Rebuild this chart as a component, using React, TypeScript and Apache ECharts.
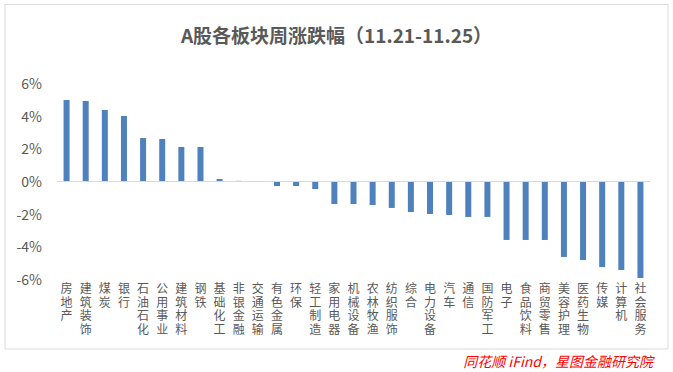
import React, { useEffect, useRef } from "react";
import * as echarts from "echarts";

const categories = [
  "房地产", "建筑装饰", "煤炭", "银行", "石油石化", "公用事业", "建筑材料", "钢铁",
  "基础化工", "非银金融", "交通运输", "有色金属", "环保", "轻工制造", "家用电器",
  "机械设备", "农林牧渔", "纺织服饰", "综合", "电力设备", "汽车", "通信", "国防军工",
  "电子", "食品饮料", "商贸零售", "美容护理", "医药生物", "传媒", "计算机", "社会服务",
];
const values = [
  4.96, 4.9, 4.35, 3.98, 2.63, 2.57, 2.08, 2.08,
  0.12, 0.01, -0.02, -0.31, -0.31, -0.49, -1.41,
  -1.41, -1.47, -1.65, -1.9, -2.02, -2.08, -2.2, -2.2,
  -3.61, -3.61, -3.61, -4.65, -4.84, -5.27, -5.45, -5.94,
];
const yTicks = { min: -6, max: 6, interval: 2 };
const titleText = "A股各板块周涨跌幅（11.21-11.25）";
const sourceText = "同花顺 iFind，星图金融研究院";

export default function App() {
  const ref = useRef<HTMLDivElement>(null);
  useEffect(() => {
    if (!ref.current) return;
    const chart = echarts.init(ref.current, null, { renderer: "svg" });
    const font = "'Noto Sans CJK SC', 'Noto Sans', sans-serif";
    chart.setOption({
      animation: false,
      backgroundColor: "#ffffff",
      title: {
        text: titleText,
        left: "center",
        top: 20,
        textStyle: { fontSize: 19, fontWeight: "bold", color: "#595959", fontFamily: font },
      },
      grid: { left: 57, right: 23, top: 83, bottom: 93, containLabel: false },
      xAxis: {
        type: "category",
        data: categories,
        axisLine: { show: false },
        axisTick: { show: false },
        axisLabel: {
          interval: 0,
          color: "#595959",
          fontSize: 12,
          lineHeight: 13.5,
          fontFamily: font,
          verticalAlign: "top",
          margin: 2,
          formatter: (v: string) => v.split("").join("\n"),
        },
        position: "bottom",
      },
      yAxis: {
        type: "value",
        min: yTicks.min,
        max: yTicks.max,
        interval: yTicks.interval,
        axisLine: { show: false },
        axisTick: { show: false },
        splitLine: { show: false },
        axisLabel: {
          color: "#595959",
          fontSize: 14,
          fontFamily: font,
          margin: 15,
          formatter: (v: number) => `${v}%`,
        },
      },
      graphic: [
        {
          type: "rect",
          shape: { x: 5, y: 4.5, width: 663, height: 344.5 },
          style: { fill: "none", stroke: "#d9d9d9", lineWidth: 1 },
          silent: true,
          z: -1,
        },
        {
          type: "text",
          right: 20,
          top: 354,
          style: {
            text: sourceText,
            fill: "#ff0000",
            fontSize: 14,
            fontStyle: "italic",
            fontFamily: font,
          },
        },
      ],
      series: [
        {
          type: "bar",
          data: values,
          barWidth: 6,
          itemStyle: { color: "#4f81bd" },
          markLine: {
            symbol: "none",
            silent: true,
            label: { show: false },
            lineStyle: { color: "#d9d9d9", type: "solid", width: 1 },
            data: [{ yAxis: 0 }],
          },
        },
      ],
    });
    return () => chart.dispose();
  }, []);
  return (
    <div
      ref={ref}
      style={{ position: "absolute", left: 0, top: 0, width: 673, height: 372 }}
    />
  );
}
